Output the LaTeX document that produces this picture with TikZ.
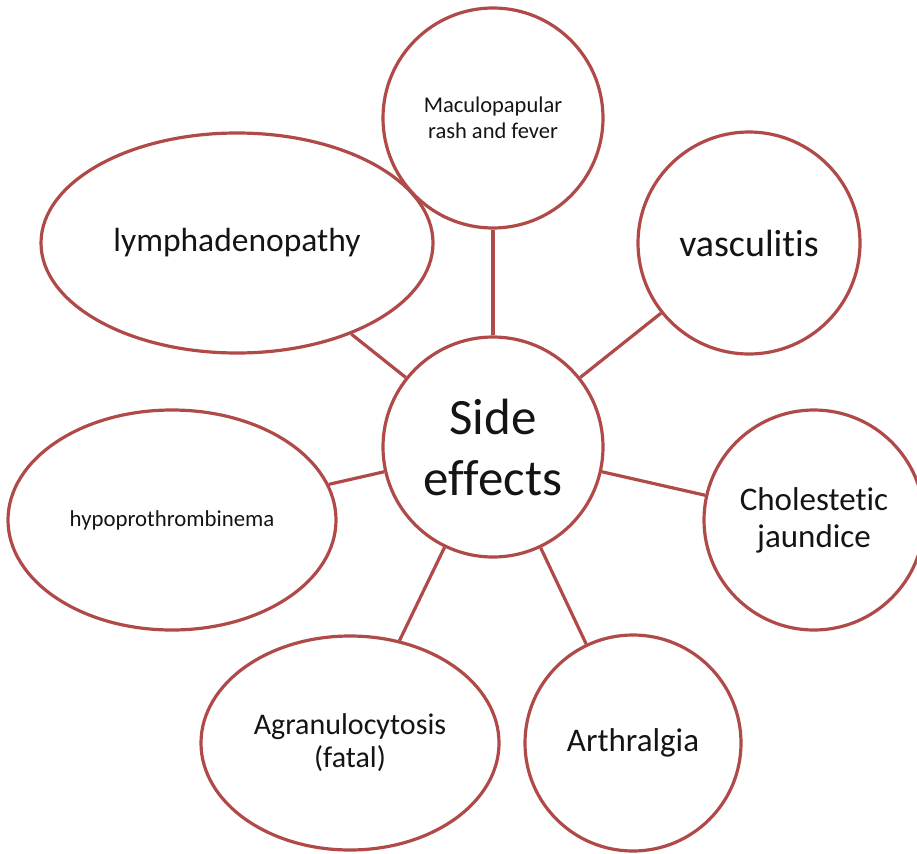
\documentclass[tikz,border=0pt]{standalone}
\usepackage{fontspec}
\setmainfont{Carlito}[RawFeature={-liga;-clig;-dlig}]
\usetikzlibrary{shapes.geometric}
\definecolor{rim}{RGB}{176,74,72}
\definecolor{ink}{RGB}{20,20,20}
\tikzset{
  bubble/.style={draw=rim, line width=3.2pt, circle, inner sep=0pt, text=ink, align=center},
  oval/.style={draw=rim, line width=3.2pt, ellipse, inner sep=0pt, text=ink, align=center},
  link/.style={draw=rim, line width=3.2pt}
}
\begin{document}
\begin{tikzpicture}[x=1pt,y=-1pt]
\clip (0,0) rectangle (917,853);
\useasboundingbox (0,0) rectangle (917,853);
\node[bubble, minimum size=220pt, font=\fontsize{51}{61}\selectfont] (c) at (493,447) {Side\\effects};
\node[bubble, minimum size=220pt, font=\fontsize{22.5}{25.5}\selectfont] (mac) at (493,118) {Maculopapular\\rash and fever};
\node[bubble, minimum size=222pt, font=\fontsize{38}{46}\selectfont] (vas) at (749,243) {vasculitis};
\node[oval, minimum width=392pt, minimum height=220pt, font=\fontsize{33.5}{40}\selectfont] (lym) at (237,243) {lymphadenopathy};
\node[oval, minimum width=328pt, minimum height=220pt, font=\fontsize{22.8}{27}\selectfont] (hyp) at (172,520) {hypoprothrombinema};
\node[bubble, minimum size=220pt, font=\fontsize{33}{37}\selectfont] (cho) at (814,520) {Cholestetic\\jaundice};
\node[oval, minimum width=298pt, minimum height=214pt, font=\fontsize{30}{33}\selectfont] (agr) at (350,743) {Agranulocytosis\\(fatal)};
\node[bubble, minimum size=216pt, font=\fontsize{33}{40}\selectfont] (art) at (633,743) {Arthralgia};
\draw[link] (c) -- (mac);
\draw[link] (c) -- (vas);
\draw[link] (c) -- (lym);
\draw[link] (c) -- (hyp);
\draw[link] (c) -- (cho);
\draw[link] (c) -- (agr);
\draw[link] (c) -- (art);
\end{tikzpicture}
\end{document}
